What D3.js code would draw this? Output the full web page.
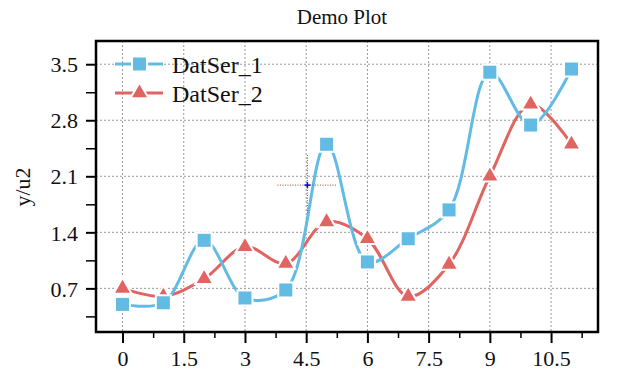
<!DOCTYPE html>
<html>
<head>
<meta charset="utf-8">
<script src="https://cdn.jsdelivr.net/npm/d3@7"></script>
<style>
  body { margin: 0; background: #fff; }
  svg text { font-family: "Liberation Serif", "Times New Roman", serif; }
</style>
</head>
<body>
<svg id="mainsvg" width="631" height="388"></svg>
<script>
// data
const xs = [0, 1, 2, 3, 4, 5, 6, 7, 8, 9, 10, 11];
const ser1 = [0.50, 0.52, 1.30, 0.58, 0.68, 2.50, 1.03, 1.32, 1.68, 3.40, 2.74, 3.44];
const ser2 = [0.70, 0.60, 0.82, 1.22, 1.01, 1.53, 1.32, 0.60, 1.00, 2.10, 3.00, 2.50];
const seriesNames = ['DatSer_1', 'DatSer_2'];
const xTicks = [0, 1.5, 3, 4.5, 6, 7.5, 9, 10.5];
const yTicks = [0.7, 1.4, 2.1, 2.8, 3.5];
const cursor = [4.53, 1.99];

let svg = d3.select('#mainsvg');
const pLeft = 96, pRight = 598, pTop = 41, pBottom = 332;
const blue = '#62bbe3', red = '#e06462';
const serif = '"Liberation Serif", "Times New Roman", serif';

let x = d3.scaleLinear().domain([-0.65, 11.65]).range([pLeft, pRight]);
let y = d3.scaleLinear().domain([0.155, 3.79]).range([pBottom, pTop]);

// grid
svg.append('g').selectAll('line').data(xTicks).enter().append('line')
  .attr('x1', d => x(d)).attr('x2', d => x(d))
  .attr('y1', pTop).attr('y2', pBottom)
  .attr('stroke', '#999').attr('stroke-dasharray', '2,2');
svg.append('g').selectAll('line').data(yTicks).enter().append('line')
  .attr('y1', d => y(d)).attr('y2', d => y(d))
  .attr('x1', pLeft).attr('x2', pRight)
  .attr('stroke', '#999').attr('stroke-dasharray', '2,2');

// minor ticks
const xMinor = d3.range(0.75, 11.5, 1.5);
const yMinor = d3.range(0.35, 3.7, 0.7);
svg.append('g').attr('transform', `translate(0,${pBottom})`)
  .call(d3.axisBottom(x).tickValues(xMinor).tickFormat('').tickSize(6).tickSizeOuter(0))
  .call(g => g.select('.domain').remove())
  .selectAll('line').attr('stroke-width', 1.5);
svg.append('g').attr('transform', `translate(${pLeft},0)`)
  .call(d3.axisLeft(y).tickValues(yMinor).tickFormat('').tickSize(10).tickSizeOuter(0))
  .call(g => g.select('.domain').remove())
  .selectAll('line').attr('stroke-width', 1.5);

// major axes
let xAxis = svg.append('g').attr('transform', `translate(0,${pBottom})`)
  .call(d3.axisBottom(x).tickValues(xTicks).tickFormat(d3.format('')).tickSize(11).tickSizeOuter(0));
xAxis.attr('font-family', serif);
xAxis.select('.domain').remove();
xAxis.selectAll('line').attr('stroke-width', 2);
xAxis.selectAll('text').attr('font-size', 22).attr('dy', '0.9em').attr('fill', '#111');

let yAxis = svg.append('g').attr('transform', `translate(${pLeft},0)`)
  .call(d3.axisLeft(y).tickValues(yTicks).tickFormat(d3.format('')).tickSize(10).tickSizeOuter(0));
yAxis.attr('font-family', serif);
yAxis.select('.domain').remove();
yAxis.selectAll('line').attr('stroke-width', 2);
yAxis.selectAll('text').attr('font-size', 22).attr('x', -18).attr('dy', '0.35em').attr('fill', '#111');

// frame
svg.append('rect').attr('x', pLeft).attr('y', pTop)
  .attr('width', pRight - pLeft).attr('height', pBottom - pTop)
  .attr('fill', 'none').attr('stroke', '#000').attr('stroke-width', 2.5);

// lines
const line = d3.line().x(d => x(d[0])).y(d => y(d[1])).curve(d3.curveCatmullRom.alpha(0.5));
const data1 = xs.map((v, i) => [v, ser1[i]]);
const data2 = xs.map((v, i) => [v, ser2[i]]);

svg.append('path').datum(data2).attr('d', line)
  .attr('fill', 'none').attr('stroke', red).attr('stroke-width', 3);
svg.append('path').datum(data1).attr('d', line)
  .attr('fill', 'none').attr('stroke', blue).attr('stroke-width', 3);

const tri = d3.symbol().type(d3.symbolTriangle).size(95);

svg.append('g').selectAll('path').data(data2).enter().append('path')
  .attr('d', tri)
  .attr('transform', d => `translate(${x(d[0])},${y(d[1])})`)
  .attr('fill', red).attr('stroke', '#fff').attr('stroke-width', 4).attr('paint-order', 'stroke');
svg.append('g').selectAll('rect').data(data1).enter().append('rect')
  .attr('x', d => x(d[0]) - 6.5).attr('y', d => y(d[1]) - 6.5)
  .attr('width', 13).attr('height', 13)
  .attr('fill', blue).attr('stroke', '#fff').attr('stroke-width', 4).attr('paint-order', 'stroke');

// legend
const legend = svg.append('g');
[0, 1].forEach(i => {
  const ly = 64 + i * 29;
  const col = i === 0 ? blue : red;
  legend.append('line').attr('x1', 115).attr('x2', 163).attr('y1', ly).attr('y2', ly)
    .attr('stroke', col).attr('stroke-width', 3);
  if (i === 0) {
    legend.append('rect').attr('x', 133).attr('y', ly - 6.5).attr('width', 13).attr('height', 13)
      .attr('fill', col).attr('stroke', '#fff').attr('stroke-width', 4).attr('paint-order', 'stroke');
  } else {
    legend.append('path').attr('d', tri).attr('transform', `translate(139.5,${ly})`)
      .attr('fill', col).attr('stroke', '#fff').attr('stroke-width', 4).attr('paint-order', 'stroke');
  }
  legend.append('text').attr('x', 172).attr('y', ly + 8.5)
    .attr('font-size', 24).attr('fill', '#111').text(seriesNames[i]);
});

// cursor
const cx = x(cursor[0]), cy = y(cursor[1]);
svg.append('line').attr('x1', cx - 30).attr('x2', cx + 29).attr('y1', cy).attr('y2', cy)
  .attr('stroke', '#8b4a2b').attr('stroke-width', 1).attr('stroke-dasharray', '1,1.5');
svg.append('line').attr('x1', cx).attr('x2', cx).attr('y1', cy - 30).attr('y2', cy + 28)
  .attr('stroke', '#8b4a2b').attr('stroke-width', 1).attr('stroke-dasharray', '1,1.5');
svg.append('line').attr('x1', cx - 3).attr('x2', cx + 3).attr('y1', cy).attr('y2', cy)
  .attr('stroke', '#0000ff').attr('stroke-width', 1.5);
svg.append('line').attr('x1', cx).attr('x2', cx).attr('y1', cy - 3).attr('y2', cy + 3)
  .attr('stroke', '#0000ff').attr('stroke-width', 1.5);

// title and y label
svg.append('text').attr('x', 342).attr('y', 24).attr('text-anchor', 'middle')
  .attr('font-size', 21).attr('fill', '#111').text('Demo Plot');
svg.append('text').attr('transform', 'translate(30,187) rotate(-90)').attr('text-anchor', 'middle')
  .attr('font-size', 22).attr('fill', '#111').text('y/u2');
</script>
</body>
</html>
